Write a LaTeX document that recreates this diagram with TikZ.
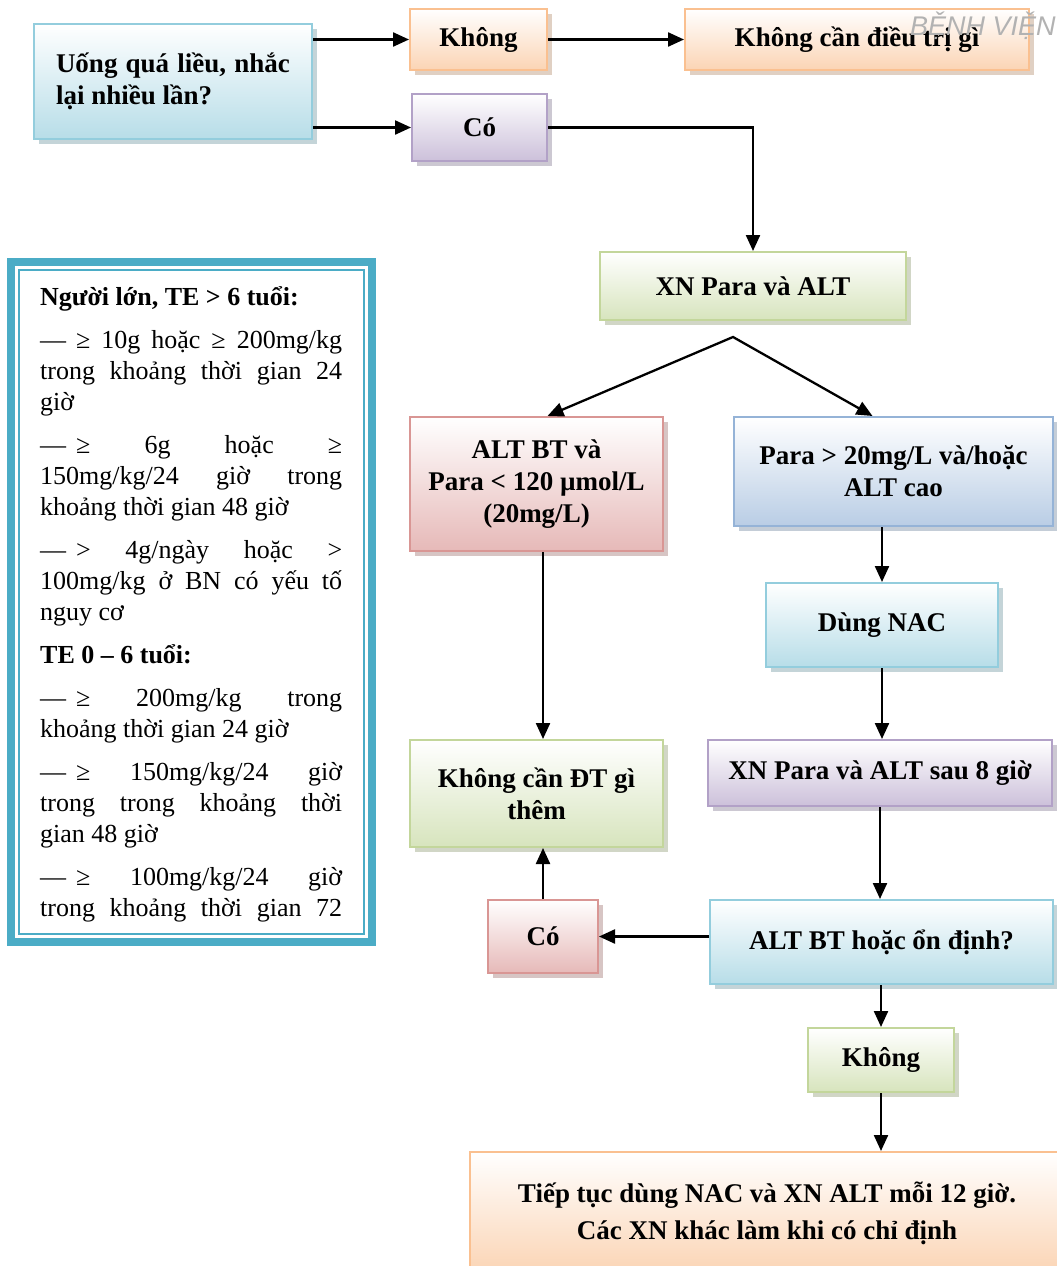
\documentclass[tikz,border=0pt]{standalone}
\usepackage{fontspec}
\setmainfont{Liberation Serif}
\newfontfamily\markfont{Liberation Sans}
\usetikzlibrary{arrows.meta,shadows}

\definecolor{orangeFill}{HTML}{FBD4B4}
\definecolor{orangeLine}{HTML}{FAC090}
\definecolor{purpleFill}{HTML}{CCC0DA}
\definecolor{purpleLine}{HTML}{B2A1C7}
\definecolor{aquaFill}{HTML}{B7DDE8}
\definecolor{aquaLine}{HTML}{93CDDD}
\definecolor{greenFill}{HTML}{D7E4BD}
\definecolor{greenLine}{HTML}{C3D69B}
\definecolor{redFill}{HTML}{E6B9B8}
\definecolor{redLine}{HTML}{D99694}
\definecolor{blueFill}{HTML}{B9CDE5}
\definecolor{blueLine}{HTML}{95B3D7}
\definecolor{frameTeal}{HTML}{4BACC6}

\newcommand\boxfont{\fontsize{27}{32}\selectfont\bfseries}
\newcommand\notefont{\fontsize{26}{31}\selectfont}
\newcommand\itemdash{—\hspace{10pt}}

\tikzstyle{format}=[rectangle,draw,line width=2pt,align=center,font=\boxfont,inner sep=4pt]
\tikzstyle{orangebox}=[format,draw=orangeLine,top color=white,bottom color=orangeFill,drop shadow={shadow xshift=5pt,shadow yshift=-5pt,fill=orangeLine!55!gray}]
\tikzstyle{purplebox}=[format,draw=purpleLine,top color=white,bottom color=purpleFill,drop shadow={shadow xshift=5pt,shadow yshift=-5pt,fill=purpleLine!55!gray}]
\tikzstyle{aquabox}=[format,draw=aquaLine,top color=white,bottom color=aquaFill,drop shadow={shadow xshift=5pt,shadow yshift=-5pt,fill=aquaLine!55!gray}]
\tikzstyle{greenbox}=[format,draw=greenLine,top color=white,bottom color=greenFill,drop shadow={shadow xshift=5pt,shadow yshift=-5pt,fill=greenLine!55!gray}]
\tikzstyle{redbox}=[format,draw=redLine,top color=white,bottom color=redFill,drop shadow={shadow xshift=5pt,shadow yshift=-5pt,fill=redLine!55!gray}]
\tikzstyle{bluebox}=[format,draw=blueLine,top color=white,bottom color=blueFill,drop shadow={shadow xshift=5pt,shadow yshift=-5pt,fill=blueLine!55!gray}]
\tikzstyle{arrowline}=[->,line width=2.3pt]

\begin{document}
\begin{tikzpicture}[x=1pt,y=-1pt,>={Triangle[length=16pt,width=14pt]}]
  \path[use as bounding box,clip] (0,0) rectangle (1057,1266);
  \fill[white] (0,0) rectangle (1057,1266);

  % khung ghi chu ben trai
  \draw[frameTeal,line width=8pt,fill=white] (11,262) rectangle (372,942);
  \draw[frameTeal,line width=2pt] (19,270) rectangle (364,934);
  \node[anchor=north west,inner sep=0pt,text width=302pt,align=justify,font=\notefont] (note) at (40,286) {%
    \setlength{\parskip}{12pt}\setlength{\parindent}{0pt}%
    \textbf{Người lớn, TE > 6 tuổi:}\par
    \itemdash≥ 10g hoặc ≥ 200mg/kg\linebreak trong khoảng thời gian 24\linebreak giờ\par
    \itemdash≥ 6g hoặc ≥\linebreak 150mg/kg/24 giờ trong\linebreak khoảng thời gian 48 giờ\par
    \itemdash> 4g/ngày hoặc >\linebreak 100mg/kg ở BN có yếu tố\linebreak nguy cơ\par
    \textbf{TE 0 – 6 tuổi:}\par
    \itemdash≥ 200mg/kg trong\linebreak khoảng thời gian 24 giờ\par
    \itemdash≥ 150mg/kg/24 giờ\linebreak trong trong khoảng thời\linebreak gian 48 giờ\par
    \itemdash≥ 100mg/kg/24 giờ\linebreak trong khoảng thời gian 72{\parfillskip=0pt\par}};

  % cac o cua so do
  \node[aquabox,minimum width=278pt,minimum height=115pt,text width=234pt,align=justify] (q) at (173,81.5) {Uống quá liều, nhắc\linebreak lại nhiều lần?};
  \node[orangebox,minimum width=137pt,minimum height=61pt] (k1) at (478.5,39.5) {Không};
  \node[purplebox,minimum width=135pt,minimum height=67pt] (c1) at (479.5,127.5) {Có};
  \node[orangebox,minimum width=344pt,minimum height=61pt] (none) at (857,39.5) {Không cần điều trị gì};
  \node[greenbox,minimum width=306pt,minimum height=68pt] (test) at (753,286) {XN Para và ALT};
  \coordinate (split) at (733,337);
  \node[redbox,minimum width=253pt,minimum height=134pt] (low) at (536.5,484) {ALT BT và\\Para < 120 µmol/L\\(20mg/L)};
  \node[bluebox,minimum width=319pt,minimum height=109pt] (high) at (893.5,471.5) {Para > 20mg/L và/hoặc\\ALT cao};
  \node[aquabox,minimum width=232pt,minimum height=84pt] (nac) at (882,625) {Dùng NAC};
  \node[greenbox,minimum width=253pt,minimum height=107pt] (stop) at (536.5,793.5) {Không cần ĐT gì\\thêm};
  \node[purplebox,minimum width=344pt,minimum height=66pt] (retest) at (880,773) {XN Para và ALT sau 8 giờ};
  \node[redbox,minimum width=110pt,minimum height=73pt] (c2) at (543,936.5) {Có};
  \node[aquabox,minimum width=343pt,minimum height=84pt] (stable) at (881.5,942) {ALT BT hoặc ổn định?};
  \node[greenbox,minimum width=146pt,minimum height=64pt] (k2) at (881,1060) {Không};
  \node[orangebox,minimum width=594pt,minimum height=122pt] (cont) at (767,1213) {Tiếp tục dùng NAC và XN ALT mỗi 12 giờ.\\[5pt]Các XN khác làm khi có chỉ định};

  \node[anchor=base west,inner sep=0pt,text=black!30,font=\markfont\itshape\fontsize{27}{27}\selectfont] (mark) at (910,35) {BỆNH VIỆN};

  % noi cac o
  \draw[arrowline] (q.east |- k1.west) -- (k1.west);
  \draw[arrowline] (q.east |- c1.west) -- (c1.west);
  \draw[arrowline] (k1) -- (none);
  \draw[arrowline] (c1.east) -| (test.north);
  \draw[arrowline,<->] ([xshift=11pt]low.north) -- (split) -- ([xshift=-21pt]high.north);
  \draw[arrowline] (low.south -| c2.north) -- (stop.north -| c2.north);
  \draw[arrowline] (high.south -| nac.north) -- (nac.north);
  \draw[arrowline] (nac.south) -- (nac.south |- retest.north);
  \draw[arrowline] (retest.south) -- (retest.south |- stable.north);
  \draw[arrowline] (stable.west |- c2.east) -- (c2.east);
  \draw[arrowline] (c2.north) -- (c2.north |- stop.south);
  \draw[arrowline] (stable.south -| k2.north) -- (k2.north);
  \draw[arrowline] (k2.south) -- (k2.south |- cont.north);
\end{tikzpicture}
\end{document}
